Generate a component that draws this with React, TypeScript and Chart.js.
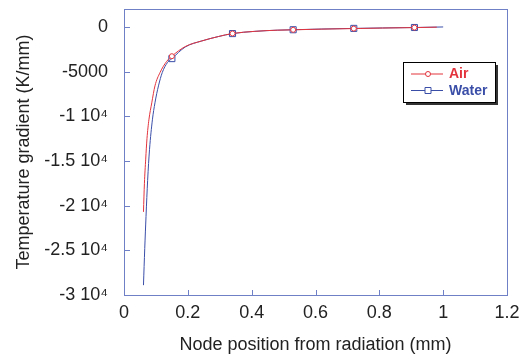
import React, { useEffect, useRef } from 'react';
import { Chart, registerables } from 'chart.js';

Chart.register(...registerables);

const seriesNames = ['Air', 'Water'];
const airX = [0.061, 0.064, 0.068, 0.072, 0.078, 0.087, 0.097, 0.113, 0.134, 0.15, 0.192, 0.244, 0.296, 0.34, 0.41, 0.48, 0.53, 0.62, 0.72, 0.81, 0.91, 0.98];
const airY = [-20700, -17500, -14800, -12500, -10400, -8500, -6600, -5100, -3850, -3280, -2200, -1570, -1080, -740, -500, -370, -330, -250, -190, -130, -80, -30];
const waterX = [0.061, 0.065, 0.069, 0.074, 0.08, 0.089, 0.097, 0.108, 0.12, 0.136, 0.15, 0.192, 0.244, 0.296, 0.34, 0.41, 0.48, 0.53, 0.62, 0.72, 0.81, 0.91, 1.0];
const waterY = [-28900, -24800, -21200, -17200, -13700, -10400, -8500, -6600, -5100, -4000, -3550, -2250, -1570, -1080, -750, -500, -370, -320, -240, -170, -120, -70, -10];
const markerX = [0.15, 0.34, 0.53, 0.72, 0.91];
const xTicks = [0, 0.2, 0.4, 0.6, 0.8, 1, 1.2];
const xTickLabels = ['0', '0.2', '0.4', '0.6', '0.8', '1', '1.2'];
const yTicks = [0, -5000, -10000, -15000, -20000, -25000, -30000];
const yTickLabels = ['0', '-5000', '-1 10\u2074', '-1.5 10\u2074', '-2 10\u2074', '-2.5 10\u2074', '-3 10\u2074'];
const xTitle = 'Node position from radiation (mm)';
const yTitle = 'Temperature gradient (K/mm)';

const AIR_COLOR = '#e3343d';
const WATER_COLOR = '#3a4ea8';
const AXIS_COLOR = '#6f80c6';
const FONT = "'Liberation Sans', Arial, sans-serif";

const framePlugin = {
  id: 'frame',
  beforeDatasetsDraw(chart: any) {
    const { ctx, chartArea: a, scales } = chart;
    ctx.save();
    ctx.strokeStyle = AXIS_COLOR;
    ctx.lineWidth = 1;
    ctx.strokeRect(a.left + 0.5, a.top + 0.5, a.right - a.left, a.bottom - a.top);
    ctx.beginPath();
    xTicks.forEach((v) => {
      const px = Math.round(scales.x.getPixelForValue(v)) + 0.5;
      ctx.moveTo(px, a.bottom);
      ctx.lineTo(px, a.bottom - 5);
    });
    yTicks.forEach((v) => {
      const py = Math.round(scales.y.getPixelForValue(v)) + 0.5;
      ctx.moveTo(a.left, py);
      ctx.lineTo(a.left + 6, py);
    });
    ctx.stroke();
    ctx.restore();
  },
};

const legendPlugin = {
  id: 'customLegend',
  afterDraw(chart: any) {
    const { ctx } = chart;
    const bx = 403, by = 62, bw = 92, bh = 40;
    ctx.save();
    ctx.fillStyle = '#333';
    ctx.fillRect(bx + 3, by + 3, bw, bh);
    ctx.fillStyle = '#fff';
    ctx.fillRect(bx, by, bw, bh);
    ctx.strokeStyle = '#000';
    ctx.lineWidth = 1;
    ctx.strokeRect(bx + 0.5, by + 0.5, bw, bh);
    const rows = [
      { name: seriesNames[0], color: AIR_COLOR, y: 74, style: 'circle' },
      { name: seriesNames[1], color: WATER_COLOR, y: 90.5, style: 'rect' },
    ];
    rows.forEach((r) => {
      ctx.strokeStyle = r.color;
      ctx.lineWidth = 1;
      ctx.beginPath();
      ctx.moveTo(411, r.y);
      ctx.lineTo(443, r.y);
      ctx.stroke();
      ctx.fillStyle = '#fff';
      ctx.beginPath();
      if (r.style === 'circle') {
        ctx.arc(428, r.y, 2.5, 0, Math.PI * 2);
      } else {
        ctx.rect(425, r.y - 3, 6, 6);
      }
      ctx.fill();
      ctx.stroke();
      ctx.fillStyle = r.color;
      ctx.font = `bold 14px ${FONT}`;
      ctx.textBaseline = 'middle';
      ctx.textAlign = 'left';
      ctx.fillText(r.name, 449, r.y + 0.5);
    });
    ctx.restore();
  },
};

const zeroPad = (s: any) => {
  s.paddingTop = 0;
  s.paddingBottom = 0;
  s.paddingLeft = 0;
  s.paddingRight = 0;
};

export default function App() {
  const ref = useRef<HTMLCanvasElement>(null);
  useEffect(() => {
    document.body.style.margin = '0';
    const toPts = (xs: number[], ys: number[]) => xs.map((x, i) => ({ x, y: ys[i] }));
    const radiusFn = (r: number) => (c: any) => (c.raw && markerX.includes(c.raw.x) ? r : 0);
    const chart = new Chart(ref.current as HTMLCanvasElement, {
      type: 'line',
      data: {
        datasets: [
          {
            label: seriesNames[0],
            data: toPts(airX, airY),
            borderColor: AIR_COLOR,
            backgroundColor: '#ffffff',
            borderWidth: 1,
            pointStyle: 'circle',
            pointRadius: radiusFn(2.5),
            pointBorderWidth: 1,
            pointBorderColor: AIR_COLOR,
            cubicInterpolationMode: 'monotone',
          },
          {
            label: seriesNames[1],
            data: toPts(waterX, waterY),
            borderColor: WATER_COLOR,
            backgroundColor: 'rgba(255,255,255,0)',
            borderWidth: 1,
            pointStyle: 'rect',
            pointRadius: radiusFn(4.3),
            pointBorderWidth: 1,
            pointBorderColor: WATER_COLOR,
            cubicInterpolationMode: 'monotone',
          },
        ],
      },
      options: {
        animation: false,
        responsive: false,
        layout: { padding: { left: 0, top: 9, right: 19, bottom: 0 } },
        plugins: { legend: { display: false }, tooltip: { enabled: false } },
        scales: {
          x: {
            type: 'linear',
            min: 0,
            max: 1.2,
            grid: { display: false, drawTicks: false },
            border: { display: false },
            afterBuildTicks: (s: any) => { s.ticks = xTicks.map((v) => ({ value: v })); },
            afterFit: (s: any) => { s.height = 61; zeroPad(s); },
            ticks: {
              padding: 7.5,
              maxRotation: 0,
              color: '#222',
              font: { family: FONT, size: 18 },
              callback: (v: any) => { const i = xTicks.findIndex((t) => Math.abs(t - v) < 1e-9); return i >= 0 ? xTickLabels[i] : ''; },
            },
            title: { display: true, text: xTitle, color: '#222', font: { family: FONT, size: 18 }, padding: { top: 0, bottom: 0.5 } },
          },
          y: {
            type: 'linear',
            min: -30000,
            max: 2000,
            grid: { display: false, drawTicks: false },
            border: { display: false },
            afterBuildTicks: (s: any) => { s.ticks = yTicks.map((v) => ({ value: v })); },
            afterFit: (s: any) => { s.width = 124; zeroPad(s); },
            ticks: {
              padding: 16,
              color: '#222',
              font: { family: FONT, size: 18 },
              callback: (v: any) => { const i = yTicks.indexOf(v); return i >= 0 ? yTickLabels[i] : ''; },
            },
            title: { display: true, text: yTitle, color: '#222', font: { family: FONT, size: 18 }, padding: { top: 13, bottom: 0 } },
          },
        },
      },
      plugins: [framePlugin, legendPlugin],
    } as any);
    return () => chart.destroy();
  }, []);
  return <canvas ref={ref} width={526} height={356} style={{ display: 'block' }} />;
}
